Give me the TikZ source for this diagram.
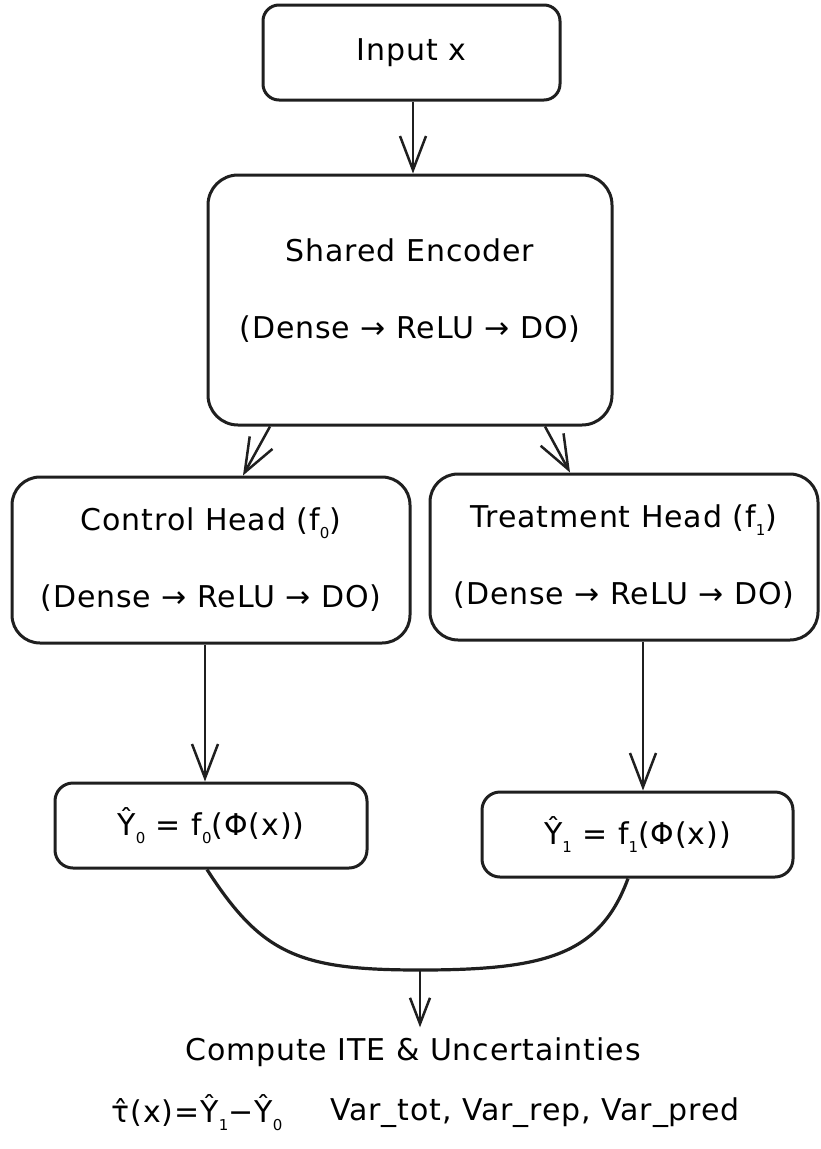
\documentclass[tikz,border=0pt]{standalone}
\usepackage{fontspec}
\setmainfont[LetterSpace=3]{DejaVu Sans}
\usetikzlibrary{arrows.meta}
\newcommand{\lo}[1]{\raisebox{-8pt}{\fontsize{15}{15}\selectfont #1}}
\begin{document}
\begin{tikzpicture}[x=1pt,y=-1pt,
  box/.style={draw=black!88, line width=3pt, fill=white, rounded corners=24pt,
    align=center, font=\fontsize{30}{77}\selectfont, inner sep=0pt},
  arr/.style={draw=black!88, line width=2.5pt,
    -{Straight Barb[length=34pt,width=26pt,line width=2.5pt]}},
  sarr/.style={draw=black!88, line width=2.5pt,
    -{Straight Barb[length=26pt,width=20pt,line width=2.5pt]}},
  merge/.style={draw=black!88, line width=3.2pt},
  lbl/.style={font=\fontsize{30}{35}\selectfont, inner sep=0pt}]
\useasboundingbox (0,0) rectangle (820,1149);

\node[box, rounded corners=16pt, minimum width=297pt, minimum height=95pt] (input) at (411.5,52.5) {Input x};
\node[box, rounded corners=30pt, minimum width=404pt, minimum height=250pt, text depth=22pt] (enc) at (410,300) {Shared Encoder\\(Dense → ReLU → DO)};
\node[box, rounded corners=28pt, minimum width=398pt, minimum height=166pt] (ctrl) at (211,560) {Control Head (f\lo{0})\\(Dense → ReLU → DO)};
\node[box, rounded corners=28pt, minimum width=388pt, minimum height=166pt] (treat) at (624,557) {Treatment Head (f\lo{1})\\(Dense → ReLU → DO)};
\node[box, rounded corners=18pt, minimum width=312pt, minimum height=85pt] (y0) at (211,825.5) {Ŷ\lo{0} = f\lo{0}(Φ(x))};
\node[box, rounded corners=18pt, minimum width=311pt, minimum height=85pt] (y1) at (637.5,834.5) {Ŷ\lo{1} = f\lo{1}(Φ(x))};

\node[lbl] (comp) at (413,1052) {Compute ITE \& Uncertainties};
\node[lbl] (tau) at (197,1113) {τ̂(x)=Ŷ\lo{1}−Ŷ\lo{0}};
\node[lbl] (var) at (535,1113) {Var\_tot, Var\_rep, Var\_pred};

\draw[arr] ([xshift=1.5pt]input.south) -- ([xshift=3pt]enc.north);
\draw[arr] ([xshift=-140pt]enc.south) -- ([xshift=32pt]ctrl.north);
\draw[arr] ([xshift=135pt]enc.south) -- ([xshift=-54pt]treat.north);
\draw[arr] ([xshift=-6pt]ctrl.south) -- ([xshift=-6pt]y0.north);
\draw[arr] ([xshift=19pt]treat.south) -- ([xshift=5.5pt]y1.north);

\coordinate (m) at (420,970);
\draw[merge] ([xshift=-4pt]y0.south) .. controls (262,955) and (300,970) .. (m)
  .. controls (545,970) and (600,955) .. ([xshift=-9.5pt]y1.south);
\draw[sarr] (m) -- ([yshift=10pt]m |- comp.north);
\end{tikzpicture}
\end{document}
